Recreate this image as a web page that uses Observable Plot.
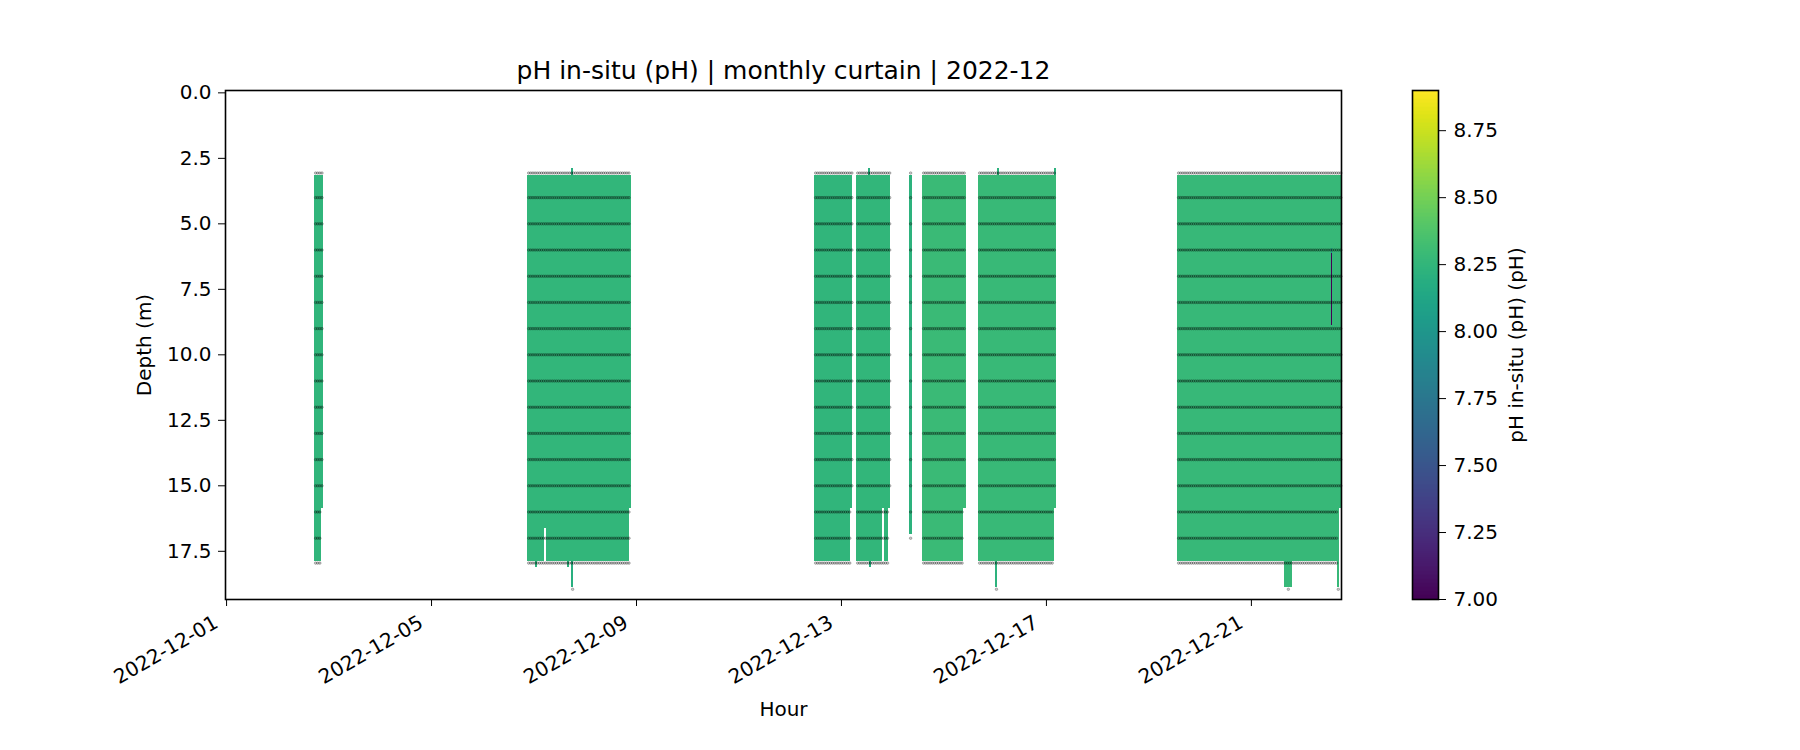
<!DOCTYPE html>
<html>
<head>
<meta charset="utf-8">
<script src="https://cdn.jsdelivr.net/npm/d3@7"></script>
<script src="https://cdn.jsdelivr.net/npm/@observablehq/plot@0.6"></script>
<style>
html, body { margin: 0; padding: 0; background: #fff; }
#wrap { position: relative; width: 1800px; height: 750px; font-family: "DejaVu Sans", sans-serif; }
#main, #cbar { position: absolute; top: 0; }
#main { left: 0; }
#cbar { left: 1380px; }
#main svg line, #cbar svg line { stroke-width: 1.6px; }
</style>
</head>
<body>
<div id="wrap"><div id="main"></div><div id="cbar"></div></div>
<script>
// ---------- data (hours since 2022-12-01T00:00Z, depth in m, pH) ----------
const T0 = Date.UTC(2022, 11, 1);
const hour = h => new Date(T0 + h * 3600e3);

const titleText = "pH in-situ (pH) | monthly curtain | 2022-12";
const xLabel = "Hour";
const yLabel = "Depth (m)";
const cbLabel = "pH in-situ (pH) (pH)";

const xTickDates = ["2022-12-01", "2022-12-05", "2022-12-09", "2022-12-13", "2022-12-17", "2022-12-21"];
const yTickValues = [0, 2.5, 5, 7.5, 10, 12.5, 15, 17.5];
const cbTickValues = [7.0, 7.25, 7.5, 7.75, 8.0, 8.25, 8.5, 8.75];
const phDomain = [7.0, 8.9];

// curtain mesh segments
const segStartH = [41.2, 41.2, 141.0, 141.0, 148.9, 149.7, 144.7, 159.8, 161.6, 161.6,
                   275.4, 275.4, 295.1, 295.1, 308.2, 300.9, 300.6, 319.9,
                   326.0, 326.0, 352.2, 352.2, 360.1, 360.9, 387.6,
                   445.4, 445.4, 495.5, 520.3, 517.3, 517.3];
const segEndH   = [45.3, 44.5, 189.5, 148.9, 149.7, 188.7, 145.4, 160.6, 162.6, 162.6,
                   293.2, 292.2, 311.0, 307.1, 309.9, 301.9, 301.6, 321.3,
                   346.4, 345.3, 388.6, 387.6, 361.2, 361.9, 388.6,
                   522.2, 520.3, 499.2, 521.2, 518.2, 518.2];
const segTop    = [3.15, 15.85, 3.15, 15.85, 15.85, 15.85, 17.88, 17.88, 17.88, 2.88,
                   3.15, 15.85, 3.15, 15.85, 15.85, 17.88, 2.88, 3.15,
                   3.15, 15.85, 3.15, 15.85, 17.88, 2.88, 2.88,
                   3.15, 15.85, 17.88, 15.85, 5.93, 6.15];
const segBottom = [15.85, 17.88, 15.85, 17.88, 16.64, 17.88, 18.1, 18.1, 18.9, 3.15,
                   15.85, 17.88, 15.85, 17.88, 17.88, 18.1, 3.15, 16.87,
                   15.85, 17.88, 15.85, 17.88, 18.9, 3.15, 3.15,
                   15.85, 17.88, 18.9, 18.9, 6.15, 8.88];
const segPH     = [8.24, 8.24, 8.25, 8.25, 8.25, 8.25, 8.22, 8.22, 8.20, 8.20,
                   8.24, 8.24, 8.25, 8.25, 8.25, 8.20, 8.20, 8.22,
                   8.29, 8.29, 8.28, 8.28, 8.22, 8.22, 8.22,
                   8.27, 8.27, 8.27, 8.27, 8.00, 7.00];

// hourly sampling blocks (sensor positions)
const blockStartH   = [41.2, 141.0, 275.4, 295.1, 319.9, 326.0, 352.2, 445.4];
const blockEndH     = [45.3, 189.5, 293.2, 311.0, 321.3, 346.4, 388.6, 522.2];
const blockDeepEndH = [44.5, 188.7, 292.2, 309.9, 321.3, 345.3, 387.6, 520.3];
const blockMaxDepth = [17.95, 17.95, 17.95, 17.95, 17.0, 17.95, 17.95, 17.95];
const upperDepths = [3.06, 4, 5, 6, 7, 8, 9, 10, 11, 12, 13, 14, 15];
const deepDepths = [16, 17, 17.95];
const extraSampleH = [162.1, 360.6, 497.3, 520.7];
const extraSampleDepth = [18.95, 18.95, 18.95, 18.95];

// ---------- build tables ----------
const segs = segStartH.map((s, i) => ({x1: hour(s), x2: hour(segEndH[i]), y1: segTop[i], y2: segBottom[i], ph: segPH[i]}));

const samples = [];
blockStartH.forEach((s, i) => {
  for (let h = s + 0.5; h < blockEndH[i]; h += 1) {
    for (const d of upperDepths) samples.push({t: hour(h), d});
    if (h < blockDeepEndH[i]) for (const d of deepDepths) if (d <= blockMaxDepth[i]) samples.push({t: hour(h), d});
  }
});
extraSampleH.forEach((h, i) => samples.push({t: hour(h), d: extraSampleDepth[i]}));

const baseStyle = {fontFamily: "DejaVu Sans", fontSize: "20px", color: "black", background: "transparent", overflow: "visible"};
const colorScale = {type: "linear", scheme: "viridis", domain: phDomain};

const main = Plot.plot({
  width: 1800, height: 750,
  marginTop: 90, marginRight: 459, marginBottom: 151, marginLeft: 225,
  style: baseStyle,
  x: {type: "utc", domain: [hour(-0.5), hour(522.2)], ticks: xTickDates.map(d => new Date(d + "T00:00Z")),
      tickFormat: () => "", tickSize: 7, tickPadding: 7, label: null},
  y: {domain: [-0.09, 19.34], reverse: true, ticks: yTickValues, tickFormat: ".1f", tickSize: 7, tickPadding: 7, label: null},
  color: colorScale,
  marks: [
    Plot.rect(segs, {x1: "x1", x2: "x2", y1: "y1", y2: "y2", fill: "ph", shapeRendering: "crispEdges"}),
    Plot.dot(samples, {x: "t", y: "d", r: 1.3, fill: "black", fillOpacity: 0.22, stroke: "black", strokeOpacity: 0.38, strokeWidth: 0.6}),
    Plot.frame({stroke: "black", strokeWidth: 1.6}),
    Plot.text(xTickDates, {x: d => new Date(d + "T00:00Z"), text: d => d, frameAnchor: "bottom", dx: -7, dy: 27,
                           textAnchor: "end", lineAnchor: "bottom", rotate: -30}),
    Plot.text([titleText], {text: d => d, frameAnchor: "top", lineAnchor: "middle", dy: -20, fontSize: 25}),
    Plot.text([xLabel], {text: d => d, frameAnchor: "bottom", lineAnchor: "middle", dy: 110}),
    Plot.text([yLabel], {text: d => d, frameAnchor: "left", textAnchor: "middle", lineAnchor: "middle", dx: -81, rotate: -90})
  ]
});
document.getElementById("main").appendChild(main);

const cbN = 380;
const cbStep = (phDomain[1] - phDomain[0]) / cbN;
const cbSteps = d3.range(cbN).map(i => phDomain[0] + i * cbStep);

const cbar = Plot.plot({
  width: 420, height: 750,
  marginTop: 90, marginBottom: 151, marginLeft: 32, marginRight: 362,
  style: baseStyle,
  x: {domain: [0, 1], axis: null},
  y: {domain: phDomain, axis: "right", ticks: cbTickValues, tickFormat: () => "", tickSize: 7, tickPadding: 7, label: null},
  color: colorScale,
  marks: [
    Plot.rect(cbSteps, {x1: () => 0, x2: () => 1, y1: d => d, y2: d => d + cbStep * 1.05, fill: d => d + cbStep / 2, shapeRendering: "crispEdges"}),
    Plot.frame({stroke: "black", strokeWidth: 1.6}),
    Plot.text(cbTickValues, {y: d => d, text: d => d3.format(".2f")(d), frameAnchor: "right", textAnchor: "start", lineAnchor: "middle", dx: 15}),
    Plot.text([cbLabel], {text: d => d, frameAnchor: "right", textAnchor: "middle", lineAnchor: "middle", dx: 78, rotate: -90})
  ]
});
document.getElementById("cbar").appendChild(cbar);
</script>
</body>
</html>
